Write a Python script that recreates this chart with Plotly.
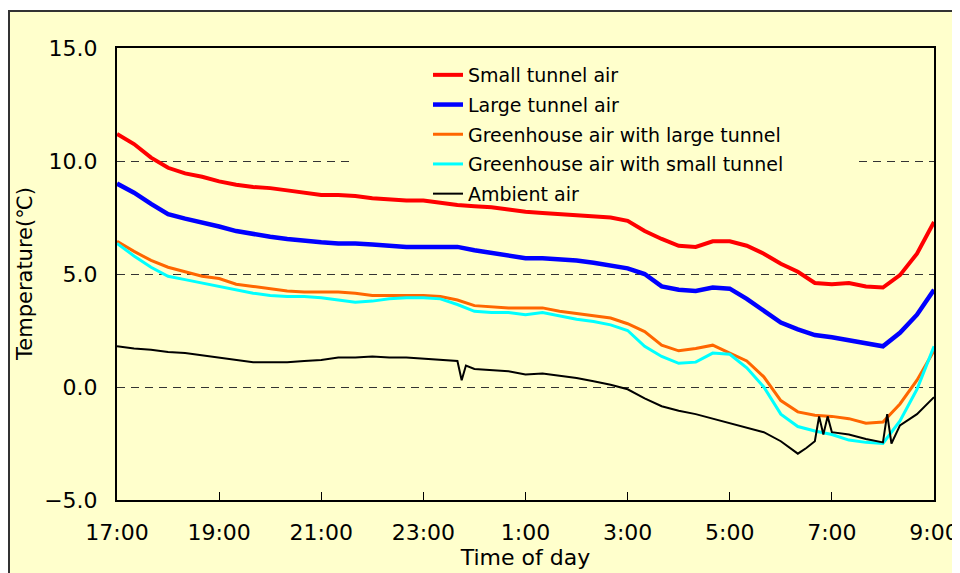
import plotly.graph_objects as go
import pandas as pd

# ---- data ----
times = pd.date_range("2000-01-01 17:00", "2000-01-02 09:00", freq="20min")

small_tunnel = [11.2, 10.75, 10.15, 9.7, 9.45, 9.3, 9.1, 8.95, 8.85, 8.8, 8.7, 8.6, 8.5, 8.5, 8.45, 8.35,
                8.3, 8.25, 8.25, 8.15, 8.05, 8.0, 7.95, 7.85, 7.75, 7.7, 7.65, 7.6, 7.55, 7.5, 7.35, 6.9,
                6.55, 6.25, 6.2, 6.45, 6.45, 6.25, 5.9, 5.45, 5.1, 4.6, 4.55, 4.6, 4.45, 4.4, 4.95, 5.9, 7.3]
large_tunnel = [9.0, 8.6, 8.1, 7.65, 7.45, 7.3, 7.1, 6.9, 6.75, 6.65, 6.55, 6.45, 6.4, 6.35, 6.35, 6.3,
                6.25, 6.2, 6.2, 6.2, 6.2, 6.05, 5.95, 5.85, 5.7, 5.7, 5.65, 5.6, 5.5, 5.4, 5.25, 5.0,
                4.45, 4.3, 4.25, 4.4, 4.35, 3.9, 3.4, 2.85, 2.55, 2.3, 2.2, 2.05, 1.95, 1.8, 2.4, 3.2, 4.3]
gh_large = [6.45, 6.0, 5.6, 5.3, 5.1, 4.9, 4.8, 4.55, 4.45, 4.35, 4.25, 4.2, 4.2, 4.2, 4.15, 4.05,
            4.05, 4.05, 4.05, 4.0, 3.85, 3.6, 3.55, 3.5, 3.5, 3.5, 3.35, 3.25, 3.15, 3.05, 2.8, 2.45,
            1.85, 1.6, 1.7, 1.85, 1.5, 1.15, 0.45, -0.6, -1.1, -1.25, -1.3, -1.4, -1.6, -1.55, -0.75, 0.3, 1.6]
gh_small = [6.35, 5.8, 5.3, 4.9, 4.75, 4.6, 4.45, 4.3, 4.15, 4.05, 4.0, 4.0, 3.95, 3.85, 3.75, 3.8,
            3.9, 3.95, 3.95, 3.9, 3.65, 3.35, 3.3, 3.3, 3.2, 3.3, 3.15, 3.0, 2.9, 2.75, 2.5, 1.8,
            1.35, 1.05, 1.1, 1.5, 1.45, 0.85, 0.0, -1.2, -1.75, -1.95, -2.1, -2.35, -2.45, -2.5, -1.5, -0.1, 1.8]

ambient_clock = ["17:00", "17:20", "17:40", "18:00", "18:20", "18:40", "19:00", "19:20", "19:40", "20:00",
                 "20:20", "20:40", "21:00", "21:20", "21:40", "22:00", "22:20", "22:40", "23:00", "23:20",
                 "23:40", "23:45", "23:50", "00:00", "00:20", "00:40", "01:00", "01:20", "01:40", "02:00",
                 "02:20", "02:40", "03:00", "03:20", "03:40", "04:00", "04:20", "04:40", "05:00", "05:20",
                 "05:40", "06:00", "06:20", "06:30", "06:40", "06:45", "06:50", "06:55", "07:00", "07:20",
                 "07:40", "08:00", "08:05", "08:10", "08:20", "08:40", "09:00"]
ambient = [1.8, 1.7, 1.65, 1.55, 1.5, 1.4, 1.3, 1.2, 1.1, 1.1,
           1.1, 1.15, 1.2, 1.3, 1.3, 1.35, 1.3, 1.3, 1.25, 1.2,
           1.15, 0.3, 0.95, 0.8, 0.75, 0.7, 0.55, 0.6, 0.5, 0.4,
           0.25, 0.1, -0.1, -0.5, -0.85, -1.05, -1.2, -1.4, -1.6, -1.8,
           -2.0, -2.4, -2.95, -2.7, -2.4, -1.3, -2.1, -1.3, -2.0, -2.1,
           -2.3, -2.45, -1.2, -2.5, -1.7, -1.2, -0.45]

x_tick_labels = ["17:00", "19:00", "21:00", "23:00", "1:00", "3:00", "5:00", "7:00", "9:00"]
y_tick_values = [-5, 0, 5, 10, 15]


def clock_to_dt(c):
    h, m = map(int, c.split(":"))
    day = "2000-01-01" if h >= 17 else "2000-01-02"
    return pd.Timestamp(f"{day} {h:02d}:{m:02d}")


ambient_times = [clock_to_dt(c) for c in ambient_clock]

CREAM = "#FFFFCC"
FONT = "DejaVu Sans, Liberation Sans, Arial, sans-serif"

fig = go.Figure()
series = [
    ("Small tunnel air", times, small_tunnel, "#FF0000", 4),
    ("Large tunnel air", times, large_tunnel, "#0000FF", 4.5),
    ("Greenhouse air with large tunnel", times, gh_large, "#FF6600", 3),
    ("Greenhouse air with small tunnel", times, gh_small, "#00FFFF", 3),
    ("Ambient air", ambient_times, ambient, "#000000", 2),
]
for name, xs, ys, col, w in series:
    fig.add_trace(go.Scatter(x=xs, y=ys, mode="lines", name=name, legendgroup=name,
                             line=dict(color=col, width=w)))

# plot area in figure px: left 109, right 926, top 40, bottom 492
PL, PT = 109, 40
PW, PH = 817, 452
PB = PT + PH


def px(xpix):
    return (xpix - PL) / PW


def py(ypix):
    return (PB - ypix) / PH


fig.update_layout(
    width=960, height=573,
    margin=dict(l=PL, r=960 - PL - PW, t=PT, b=573 - PB, autoexpand=False),
    paper_bgcolor="white",
    plot_bgcolor=CREAM,
    font=dict(family=FONT, color="black", size=22),
    showlegend=True,
    legend=dict(x=px(420), y=py(48), xanchor="left", yanchor="top",
                bgcolor="rgba(0,0,0,0)", font=dict(size=19, family=FONT),
                traceorder="grouped", tracegroupgap=2, itemwidth=30),
    shapes=[
        dict(type="rect", xref="paper", yref="paper",
             x0=px(1), x1=px(945), y0=py(590), y1=py(3),
             fillcolor=CREAM, line=dict(color="#333333", width=2), layer="below"),
        dict(type="rect", xref="paper", yref="paper",
             x0=px(347), x1=px(847), y0=py(164), y1=py(142),
             fillcolor=CREAM, line=dict(width=0), layer="above"),
    ],
    annotations=[
        dict(text="Temperature(℃)", textangle=-90, xref="paper", yref="paper",
             x=px(17), y=0.5, xanchor="center", yanchor="middle", showarrow=False,
             font=dict(size=21, family=FONT, color="black")),
    ],
)

fig.update_xaxes(
    type="date",
    range=[times[0], times[-1]],
    tickvals=list(pd.date_range(times[0], times[-1], freq="2h")),
    ticktext=x_tick_labels,
    ticks="inside", ticklen=8, tickwidth=1, tickcolor="black",
    showline=True, linecolor="black", linewidth=2, mirror=True,
    showgrid=False, zeroline=False, automargin=False,
    ticklabelstandoff=12,
    tickfont=dict(size=22),
    title=dict(text="Time of day", font=dict(size=22), standoff=4),
)
fig.update_yaxes(
    range=[-5, 15],
    tickvals=y_tick_values,
    tickformat=".1f",
    ticks="", showline=True, linecolor="black", linewidth=2, mirror=True,
    showgrid=True, gridcolor="#333333", gridwidth=1, griddash="8px,6px",
    zeroline=False, automargin=False,
    ticklabelstandoff=13,
    tickfont=dict(size=22),
)

fig.write_html("out.html")
